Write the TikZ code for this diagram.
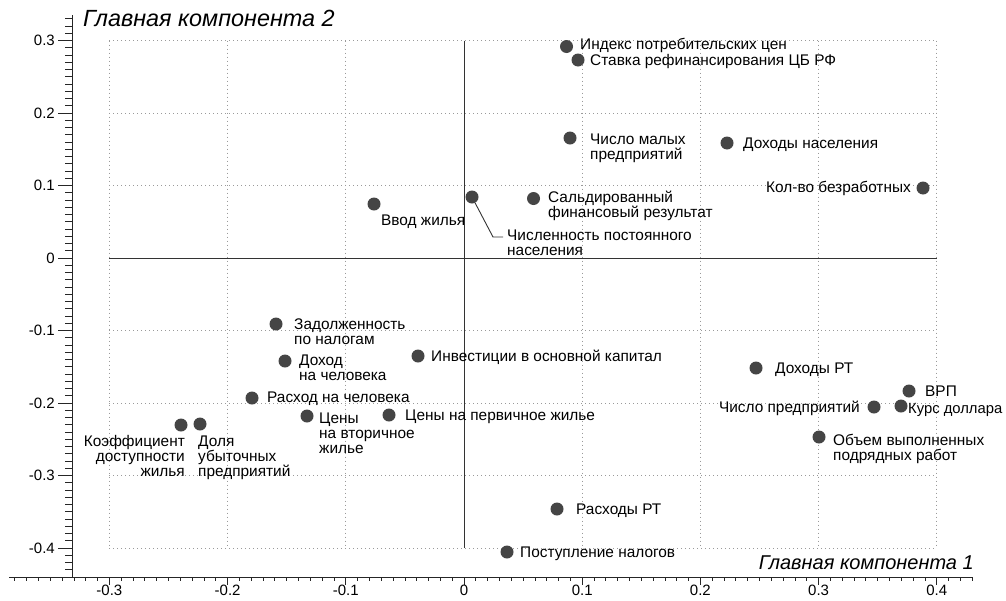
\documentclass[tikz,border=0pt]{standalone}
\usepackage{fontspec}
\setmainfont{Liberation Sans}
\definecolor{dotc}{HTML}{454545}
\definecolor{gridc}{HTML}{9A9A9A}
\begin{document}
\begin{tikzpicture}[x=1pt,y=-1pt,
  dot/.style={circle,fill=dotc,inner sep=0pt,minimum size=13pt},
  lbl/.style={font=\fontsize{15.4}{15}\selectfont,inner sep=0pt,align=left,anchor=base west},
  lblr/.style={font=\fontsize{15.4}{15}\selectfont,inner sep=0pt,align=right,anchor=base east},
  ttl/.style={font=\fontsize{23.4}{25}\selectfont\itshape,inner sep=0pt},
  tick/.style={font=\fontsize{15}{16}\selectfont,inner sep=0pt},
  gridline/.style={gridc,line width=0.8pt,dash pattern=on 0.8pt off 3.2pt},
  zline/.style={black!80,line width=0.9pt},
  axisline/.style={black!85,line width=1pt},
  leader/.style={black!80,line width=0.9pt}]
\useasboundingbox (0,0) rectangle (1006,600);
% grid
\foreach \gx in {109.4,227.6,345.8,582.2,700.4,818.6,936.8}
  \draw[gridline] (\gx,40.5) -- (\gx,548);
\foreach \gy in {40.5,113,185.5,330.5,403,475.5,548}
  \draw[gridline] (109.4,\gy) -- (936.8,\gy);
% zero lines
\draw[zline] (464,40.5) -- (464,548);
\draw[zline] (109.4,258) -- (936.8,258);
% axes
\draw[axisline] (72,15) -- (72,577);
\draw[axisline] (9,577) -- (973,577);
\foreach \k in {-38,...,43}
  \draw[axisline,line width=0.8pt] ({464+11.82*\k},577) -- ++(0,3.5);
\foreach \k in {-44,...,33}
  \draw[axisline,line width=0.8pt] (72,{258-7.25*\k}) -- ++(-7,0);
\foreach \v/\t in {-3/-0.3,-2/-0.2,-1/-0.1,0/0,1/0.1,2/0.2,3/0.3,4/0.4}{
  \draw[axisline] ({464+118.2*\v},577) -- ++(0,8);
  \node[tick] (xt\v) at ({464+118.2*\v},590) {\t};
}
\foreach \v/\t in {-4/-0.4,-3/-0.3,-2/-0.2,-1/-0.1,0/0,1/0.1,2/0.2,3/0.3}{
  \draw[axisline] (72,{258-72.5*\v}) -- ++(-14,0);
  \node[tick,anchor=east] (yt\v) at (55,{258-72.5*\v}) {\t};
}
% axis titles
\node[ttl,anchor=west] (t2) at (83,18) {Главная компонента 2};
\node[ttl,anchor=east,font=\fontsize{20}{22}\selectfont\itshape] (t1) at (974,563) {Главная компонента 1};
% leader
\coordinate (k1) at (493,237);
\coordinate (k2) at (503,237);
\node[dot] (d8) at (472,197) {};
\draw[leader] (d8) -- (k1) -- (k2);
% dots
\node[dot] (d1) at (566.5,46.5) {};
\node[dot] (d2) at (578,60) {};
\node[dot] (d3) at (570,138) {};
\node[dot] (d4) at (727,143) {};
\node[dot] (d5) at (923,188) {};
\node[dot] (d6) at (533.5,198.5) {};
\node[dot] (d7) at (374,204) {};
\node[dot] (d9) at (276,324) {};
\node[dot] (d10) at (285,361) {};
\node[dot] (d11) at (252,398) {};
\node[dot] (d12) at (307,416) {};
\node[dot] (d13) at (389,415) {};
\node[dot] (d14) at (418,356) {};
\node[dot] (d15) at (181,425) {};
\node[dot] (d16) at (200,424) {};
\node[dot] (d17) at (756,368) {};
\node[dot] (d18) at (909,391) {};
\node[dot] (d19) at (874,407) {};
\node[dot] (d20) at (901,406) {};
\node[dot] (d21) at (819,437) {};
\node[dot] (d22) at (557,509) {};
\node[dot] (d23) at (507,552) {};
% labels (base = baseline of last line)
\node[lbl] (l1) at (580,49.5) {Индекс потребительских цен};
\node[lbl] (l2) at (590,65.5) {Ставка рефинансирования ЦБ РФ};
\node[lbl] (l3) at (590,159) {Число малых\\предприятий};
\node[lbl] (l4) at (743,148.5) {Доходы населения};
\node[lblr] (l5) at (911,192.5) {Кол-во безработных};
\node[lbl] (l6) at (548,217.5) {Сальдированный\\финансовый результат};
\node[lbl] (l7) at (381,225.5) {Ввод жилья};
\node[lbl] (l8) at (507,255.5) {Численность постоянного\\населения};
\node[lbl] (l9) at (294,344.5) {Задолженность\\по налогам};
\node[lbl] (l10) at (299,380.5) {Доход\\на человека};
\node[lbl] (l11) at (267,402.5) {Расход на человека};
\node[lbl] (l12) at (319,453.5) {Цены\\на вторичное\\жилье};
\node[lbl] (l13) at (405,420.5) {Цены на первичное жилье};
\node[lbl] (l14) at (431,361.5) {Инвестиции в основной капитал};
\node[lblr] (l15) at (185,476.5) {Коэффициент\\доступности\\жилья};
\node[lbl] (l16) at (198,476.5) {Доля\\убыточных\\предприятий};
\node[lbl] (l17) at (775,373.5) {Доходы РТ};
\node[lbl] (l18) at (925,396.5) {ВРП};
\node[lblr] (l19) at (860,412.5) {Число предприятий};
\node[lbl,font=\fontsize{14.8}{15}\selectfont] (l20) at (908,413.5) {Курс доллара};
\node[lbl] (l21) at (833,460.5) {Объем выполненных\\подрядных работ};
\node[lbl] (l22) at (576,514.5) {Расходы РТ};
\node[lbl] (l23) at (520,557.5) {Поступление налогов};
\end{tikzpicture}
\end{document}
